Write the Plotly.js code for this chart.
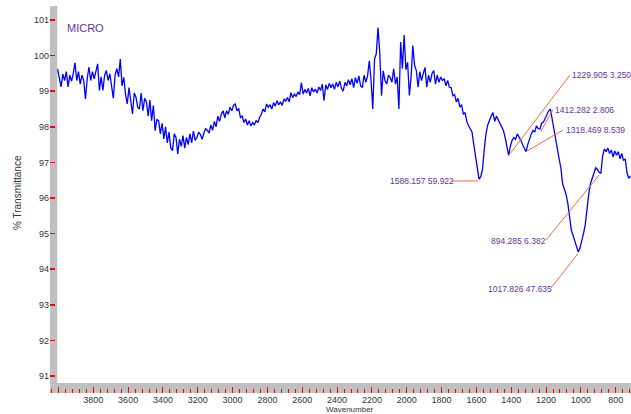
<!DOCTYPE html>
<html>
<head>
<meta charset="utf-8">
<script src="https://cdn.plot.ly/plotly-3.0.1.min.js"></script>
<style>
html,body{margin:0;padding:0;background:#fff;}
#chart{width:631px;height:414px;}
</style>
</head>
<body>
<div id="chart"></div>
<script>
// ---- DATA ----
const wavenumber = [
 4005,3995,3985,3975,3965,3955,3945,3935,3925,3915,
 3905,3895,3885,3875,3865,3855,3845,3835,3825,3815,
 3805,3795,3785,3775,3765,3755,3745,3735,3725,3715,
 3705,3695,3685,3675,3665,3655,3645,3635,3625,3615,
 3605,3595,3585,3575,3565,3555,3545,3535,3525,3515,
 3505,3495,3485,3475,3465,3455,3445,3435,3425,3415,
 3405,3395,3385,3375,3365,3355,3345,3335,3325,3315,
 3305,3295,3285,3275,3265,3255,3245,3235,3225,3215,
 3205,3195,3185,3175,3165,3155,3145,3135,3125,3115,
 3105,3095,3085,3075,3065,3055,3045,3035,3025,3015,
 3005,2995,2985,2975,2965,2955,2945,2935,2925,2915,
 2905,2895,2885,2875,2865,2855,2845,2835,2825,2815,
 2805,2795,2785,2775,2765,2755,2745,2735,2725,2715,
 2705,2695,2685,2675,2665,2655,2645,2635,2625,2615,
 2605,2595,2585,2575,2565,2555,2545,2535,2525,2515,
 2505,2495,2485,2475,2465,2455,2445,2435,2425,2415,
 2405,2395,2385,2375,2365,2355,2345,2335,2325,2315,
 2305,2295,2285,2275,2265,2255,2245,2235,2225,2215,
 2205,2195,2185,2175,2165,2155,2145,2135,2125,2115,
 2105,2095,2085,2075,2065,2055,2045,2035,2025,2015,
 2005,1995,1985,1975,1965,1955,1945,1935,1925,1915,
 1905,1895,1885,1875,1865,1855,1845,1835,1825,1815,
 1805,1795,1785,1775,1765,1755,1745,1735,1725,1715,
 1705,1695,1685,1675,1665,1655,1645,1635,1625,1615,
 1605,1595,1585,1575,1565,1555,1545,1535,1525,1515,
 1505,1495,1485,1475,1465,1455,1445,1435,1425,1415,
 1405,1395,1385,1375,1365,1355,1345,1335,1325,1315,
 1305,1295,1285,1275,1265,1255,1245,1235,1225,1215,
 1205,1195,1185,1175,1165,1155,1145,1135,1125,1115,
 1105,1095,1085,1075,1065,1055,1045,1035,1025,1015,
 1005,995,985,975,965,955,945,935,925,915,
 905,895,885,875,865,855,845,835,825,815,
 805,795,785,775,765,755,745,735,725,715
];
const transmittance = [
 99.62,99.40,99.12,99.48,99.30,99.55,99.12,99.45,99.28,99.50,
 99.80,99.30,99.55,99.20,99.45,99.30,98.78,99.35,99.68,99.30,
 99.55,99.35,99.60,99.77,99.02,99.40,99.02,99.45,99.58,99.30,
 99.49,99.20,98.80,99.45,99.63,99.40,99.90,99.15,99.39,98.92,
 98.64,99.10,98.75,98.36,98.95,98.83,98.55,98.50,98.95,98.45,
 98.80,98.70,98.30,98.75,98.17,98.60,97.89,98.20,98.17,97.80,
 98.10,97.66,98.00,97.55,97.85,97.40,97.33,97.80,97.70,97.24,
 97.65,97.45,97.75,97.40,97.70,97.50,97.80,97.55,97.88,97.62,
 97.70,97.85,97.78,97.65,97.82,97.95,97.90,97.82,98.05,97.90,
 98.15,98.00,98.30,98.15,98.35,98.45,98.25,98.45,98.35,98.55,
 98.45,98.60,98.64,98.45,98.52,98.26,98.30,98.12,98.22,98.05,
 98.17,98.02,98.12,98.05,98.18,98.12,98.26,98.35,98.50,98.42,
 98.64,98.55,98.62,98.50,98.68,98.58,98.73,98.62,98.70,98.60,
 98.78,98.72,98.82,98.70,98.96,98.82,98.92,98.85,98.98,98.90,
 99.24,98.92,99.05,98.95,99.08,98.87,99.10,98.98,99.06,98.95,
 99.12,99.02,99.20,98.73,99.18,99.05,99.22,99.10,99.20,99.05,
 99.25,99.12,99.28,99.08,99.00,99.25,99.15,99.32,99.18,99.35,
 99.10,99.38,99.22,99.43,99.15,99.10,99.45,99.25,99.43,99.85,
 99.30,98.50,99.90,100.05,100.79,100.08,98.87,99.57,99.30,99.20,
 99.45,99.38,99.25,99.63,99.20,99.40,98.50,100.38,99.63,100.58,
 99.60,99.81,98.88,99.40,100.28,99.72,99.58,99.11,99.55,99.30,
 99.50,99.67,99.11,99.45,99.25,99.50,99.58,99.20,99.45,99.25,
 99.40,99.30,99.35,99.15,99.30,99.11,99.10,98.87,98.90,98.70,
 98.80,98.55,98.62,98.35,98.40,98.15,98.03,97.95,97.85,97.50,
 97.18,96.75,96.53,96.60,96.80,97.35,97.80,98.05,98.20,98.30,
 98.40,98.15,98.30,98.20,98.10,98.00,97.90,97.70,97.40,97.20,
 97.45,97.62,97.70,97.65,97.80,97.72,97.62,97.50,97.38,97.30,
 97.50,97.66,97.80,97.90,97.85,98.03,97.95,97.94,98.10,98.13,
 98.25,98.35,98.45,98.50,98.20,97.90,97.60,97.38,97.10,96.85,
 96.40,96.25,96.10,95.85,95.45,95.10,94.95,94.80,94.65,94.48,
 94.60,94.77,95.00,95.25,95.75,96.10,96.40,96.55,96.75,96.85,
 96.80,96.72,96.70,97.18,97.38,97.30,97.40,97.25,97.35,97.15,
 97.32,97.20,97.30,97.10,97.25,97.05,97.10,96.70,96.55,96.62
];
const peakWn    = [1588.157, 1412.282, 1318.469, 1229.905, 1017.826, 894.285];
const peakT     = [96.48, 97.21, 97.29, 97.87, 94.43, 96.65];
const peakValue = ['59.922', '2.806', '8.539', '3.250', '47.635', '6.382'];
const xTickVals = [4000,3800,3600,3400,3200,3000,2800,2600,2400,2200,2000,1800,1600,1400,1200,1000,800];
const xTickText = ['','3800','3600','3400','3200','3000','2800','2600','2400','2200','2000','1800','1600','1400','1200','1000','800'];
const yTickVals = [91,92,93,94,95,96,97,98,99,100,101];

// ---- LAYOUT / STYLE ----
const W = 631, H = 414;
const M = {l: 50, r: 0, t: 6, b: 21};
const PW = W - M.l - M.r, PH = H - M.t - M.b;
const XR = [4048.7, 712.2];
const YR = [90.522, 101.393];
const FONT = 'Liberation Sans, Arial, sans-serif';
const PURPLE = '#663399';
const ORANGE = '#f26a3d';
const RED = '#ff0000';

function pxToWn(px){ return XR[0] + (px - M.l) / PW * (XR[1] - XR[0]); }
function pyToT(py){ return YR[1] - (py - M.t) / PH * (YR[1] - YR[0]); }
function pxPaper(px){ return (px - M.l) / PW; }
function pyPaper(py){ return (H - M.b - py) / PH; }

// label placement in pixels: text left edge, text centre y, leader end x, leader end y
const labelPos = [
  {tx: 388, ty: 181,   lx: 452, ly: 181},
  {tx: 553, ty: 109.5, lx: 570, ly: 75},
  {tx: 564, ty: 130,   lx: 563, ly: 130},
  {tx: 570, ty: 75,    lx: 553, ly: 109.5},
  {tx: 486, ty: 289,   lx: 551, ly: 288},
  {tx: 489, ty: 241,   lx: 546, ly: 240}
];

const shapes = [
  {type:'rect', xref:'paper', yref:'paper', x0:0, x1:7.3/PW, y0:0, y1:1,
   fillcolor:'#c0c0c0', line:{width:0}, layer:'below'},
  {type:'rect', xref:'paper', yref:'paper', x0:0, x1:1, y0:0, y1:10/PH,
   fillcolor:'#c0c0c0', line:{width:0}, layer:'below'}
];
const annotations = [
  {xref:'paper', yref:'paper', x:pxPaper(65), y:pyPaper(28), xanchor:'left', yanchor:'middle',
   text:'MICRO', showarrow:false, font:{family:FONT, size:11, color:PURPLE}},
  {xref:'paper', yref:'paper', x:pxPaper(17), y:pyPaper(193), xanchor:'center', yanchor:'middle',
   text:'% Transmittance', textangle:-90, showarrow:false,
   font:{family:FONT, size:10, color:'#333'}},
  {xref:'paper', yref:'paper', x:pxPaper(350), y:pyPaper(409.5), xanchor:'center', yanchor:'middle',
   text:'Wavenumber', showarrow:false, font:{family:FONT, size:8, color:'#333'}}
];
peakWn.forEach((wn, i) => {
  const p = labelPos[i];
  shapes.push({type:'line', xref:'x', yref:'y',
    x0: wn, y0: peakT[i], x1: pxToWn(p.lx), y1: pyToT(p.ly),
    line:{color:ORANGE, width:1}});
  annotations.push({xref:'paper', yref:'paper', x:pxPaper(p.tx), y:pyPaper(p.ty),
    xanchor:'left', yanchor:'middle', showarrow:false,
    text: wn.toFixed(3) + '\u00a0' + peakValue[i],
    font:{family:FONT, size:8.5, color:PURPLE}});
});

const trace = {
  x: wavenumber, y: transmittance, type:'scatter', mode:'lines',
  line:{color:'#0000ff', width:1.3}, hoverinfo:'skip'
};

const layout = {
  width: W, height: H,
  margin: M,
  paper_bgcolor:'#ffffff', plot_bgcolor:'#ffffff',
  showlegend:false,
  font:{family:FONT, size:9, color:'#333'},
  xaxis:{
    range: XR, showgrid:false, zeroline:false, showline:false,
    tickmode:'array', tickvals:xTickVals, ticktext:xTickText,
    ticks:'inside', ticklen:6, tickwidth:1, tickcolor:RED,
    minor:{tick0:4000, dtick:40, ticks:'inside', ticklen:4, tickwidth:1, tickcolor:RED, showgrid:false},
    tickfont:{family:FONT, size:9, color:'#333'}
  },
  yaxis:{
    range: YR, showgrid:false, zeroline:false, showline:false,
    tickmode:'array', tickvals:yTickVals,
    ticks:'inside', ticklen:5, tickwidth:1.5, tickcolor:RED,
    tickfont:{family:FONT, size:9, color:'#333'}
  },
  shapes: shapes,
  annotations: annotations
};

Plotly.newPlot('chart', [trace], layout, {displayModeBar:false, staticPlot:true});
</script>
</body>
</html>
